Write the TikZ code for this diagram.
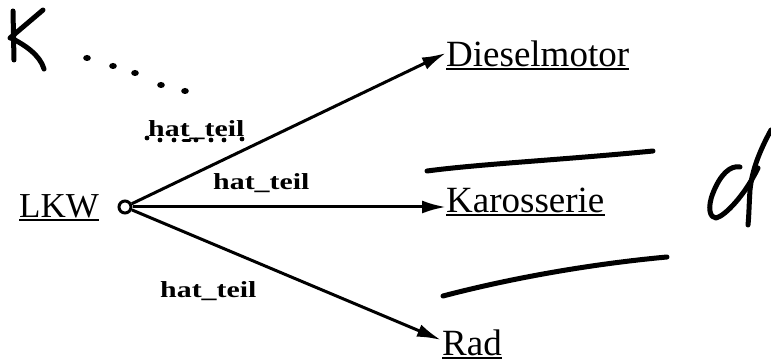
\documentclass[tikz,border=0pt]{standalone}
\usepackage{fontspec}
\setmainfont{Liberation Serif}
\usetikzlibrary{arrows.meta}
\tikzset{
  ent/.style={inner sep=0pt, anchor=base west, font=\fontsize{37}{40}\selectfont},
  ul/.style={line width=2pt},
  rel/.style={line width=3pt, -{Latex[length=24pt,width=13pt]}},
  lbl/.style={inner sep=0pt, anchor=base west, font=\bfseries\fontsize{23}{26}\selectfont},
  hand/.style={line width=5pt, line cap=round, line join=round},
  dot/.style={fill=black, draw=none}
}
\newcommand{\lab}{\scalebox{1.3}[1]{hat\_teil}}
\begin{document}
\begin{tikzpicture}[x=1pt,y=-1pt]
\useasboundingbox (0,0) rectangle (771,363);
% entity texts
\node[ent, font=\fontsize{35}{40}\selectfont] (lkw) at (19,218) {LKW};
\node[ent] (diesel) at (446,67) {Dieselmotor};
\node[ent] (karo) at (446,213) {Karosserie};
\node[ent] (rad) at (442,355) {Rad};
\foreach \n in {lkw,diesel,karo,rad}
  \draw[ul] ([yshift=-2.5pt]\n.base west) -- ([yshift=-2.5pt]\n.base east);
% source circle
\node[circle, draw, line width=3pt, fill=white, minimum size=12pt, inner sep=0pt] (c) at (125,207) {};
\coordinate (td) at (446,53);
\coordinate (tk) at (446,207);
\coordinate (tr) at (441,340);
\draw[rel] (c) -- (td);
\draw[rel] (c) -- (tk);
\draw[rel] (c) -- (tr);
% labels
\node[lbl] (l1) at (148,137) {\lab};
\node[lbl] (l2) at (213,190) {\lab};
\node[lbl] (l3) at (160,298) {\lab};
% handwriting: K
\draw[hand] (13,11) -- (14,60);
\draw[hand] (43,10) -- (10,38);
\draw[hand] (11,38) .. controls (25,45) and (40,55) .. (44,69);
% dots after K
\foreach \p in {(87,58),(113,66),(135,73),(161,85),(185,91)}
  \fill[dot] \p ellipse (3.8pt and 3pt);
% dots under upper label
\foreach \p in {(147,138),(160,140),(174,140),(196,140),(211,140),(224,140),(242,139)}
  \fill[dot] \p circle (2.4pt);
\draw[line width=3pt, line cap=round] (183,141) -- (190,141);
% handwritten strokes
\draw[hand] (427,171) .. controls (480,164) and (560,160) .. (653,151);
\draw[hand] (443,296) .. controls (500,281) and (580,265) .. (667,257);
% handwritten d
\draw[hand] (771,130) .. controls (760,150) and (752,170) .. (750,190) .. controls (749,205) and (749,215) .. (748,225);
\draw[hand] (740,167) .. controls (730,165) and (720,175) .. (713,193) .. controls (707,208) and (710,218) .. (716,218) .. controls (725,216) and (745,195) .. (758,168);
\end{tikzpicture}
\end{document}
